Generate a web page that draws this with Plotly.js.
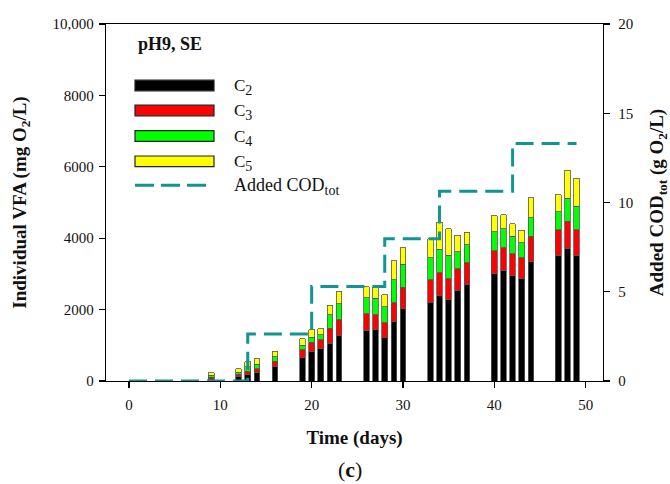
<!DOCTYPE html>
<html>
<head>
<meta charset="utf-8">
<script src="https://cdn.plot.ly/plotly-3.0.1.min.js"></script>
<style>html,body{margin:0;padding:0;background:#fff;}#chart{width:670px;height:484px;}</style>
</head>
<body>
<div id="chart"></div>
<script>
// Sampling days (x) for the VFA bars
const days = [9,12,13,14,16,19,20,21,22,23,26,27,28,29,30,33,34,35,36,37,40,41,42,43,44,47,48,49];
// Individual VFA concentrations (mg O2/L)
const c2 = [56,140,178,252,393,654,822,897,1056,1262,1402,1430,1215,1654,2019,2206,2393,2280,2542,2692,3000,3084,2944,2860,3336,3505,3720,3505];
const c3 = [47,56,93,93,159,215,262,252,421,449,477,430,411,542,607,626,636,579,598,626,654,654,617,598,720,738,757,729];
const c4 = [56,47,131,131,121,131,140,150,383,458,449,458,449,636,645,626,664,664,486,495,523,523,495,411,523,505,645,664];
const c5 = [75,100,131,150,159,178,206,159,262,346,308,308,336,533,458,523,757,738,458,355,458,402,346,355,551,467,776,776];
// Added COD total (g O2/L), step line
const codDays = [0,13,20,28,34,42,49];
const codVals = [0,2.64,5.30,7.97,10.63,13.30,13.30];
// Tick labels
const xTicks = [0,10,20,30,40,50];
const yTicks = [0,2000,4000,6000,8000,10000];
const yTickText = ['0','2000','4000','6000','8000','10,000'];
const y2Ticks = [0,5,10,15,20];
const seriesNames = ['C<sub>2</sub>','C<sub>3</sub>','C<sub>4</sub>','C<sub>5</sub>'];
const legendNames = ['C<sub><span style="font-size:14px">2</span></sub>','C<sub><span style="font-size:14px">3</span></sub>','C<sub><span style="font-size:14px">4</span></sub>','C<sub><span style="font-size:14px">5</span></sub>'];
const seriesColors = ['#000000','#ff0000','#00ff00','#ffff00'];
const codName = 'Added COD<sub>tot</sub>';
const codLegend = 'Added COD<sub><span style="font-size:14px">tot</span></sub>';
const codColor = '#109494';

const FONT = 'Liberation Serif, Times New Roman, serif';
const series = [c2,c3,c4,c5];
const traces = series.map((vals,i)=>({
  type:'bar', x:days, y:vals, name:seriesNames[i], width:0.62,
  marker:{color:seriesColors[i], line:{color:'#555', width:0.8}},
  showlegend:false, yaxis:'y', xaxis:'x'
}));
traces.push({
  type:'scatter', mode:'lines', x:codDays, y:codVals, name:codName,
  line:{color:codColor, width:3, shape:'hv', dash:'18px,8px'},
  yaxis:'y2', showlegend:false
});

// manual legend (paper coords)
const L = 106, R = 603, T = 24, B = 381;
const px = v => (v - L)/(R - L);
const py = v => (B - v)/(B - T);
const shapes = [];
const annotations = [];
const legRows = [85.5, 110.5, 136, 161.3];
legRows.forEach((yc,i)=>{
  shapes.push({type:'rect', xref:'paper', yref:'paper', x0:px(135), x1:px(214), y0:py(yc+5.3), y1:py(yc-5.3),
    fillcolor:seriesColors[i], line:{color:'#222', width:1.2}});
  annotations.push({xref:'paper', yref:'paper', x:px(232), y:py(yc+1.5), xanchor:'left', yanchor:'middle',
    text:legendNames[i], showarrow:false, font:{family:FONT, size:17, color:'#111'}});
});
shapes.push({type:'line', xref:'paper', yref:'paper', x0:px(135), x1:px(207), y0:py(185.3), y1:py(185.3),
  line:{color:codColor, width:3, dash:'19px,7px'}});
annotations.push({xref:'paper', yref:'paper', x:px(232), y:py(186), xanchor:'left', yanchor:'middle',
  text:codLegend, showarrow:false, font:{family:FONT, size:18, color:'#111'}});
annotations.push({xref:'paper', yref:'paper', x:px(136), y:py(44), xanchor:'left', yanchor:'middle',
  text:'<b>pH9, SE</b>', showarrow:false, font:{family:FONT, size:18, color:'#111'}});
annotations.push({xref:'paper', yref:'paper', x:px(350), y:py(469), xanchor:'center', yanchor:'middle',
  text:'(<b>c</b>)', showarrow:false, font:{family:FONT, size:22, color:'#111'}});

const axisCommon = {showgrid:false, zeroline:false, showline:true, linecolor:'#000', linewidth:1.3,
  ticks:'outside', ticklen:6, tickwidth:1.2, tickcolor:'#000',
  tickfont:{family:FONT, size:15, color:'#111'}};

const layout = {
  width:670, height:484,
  margin:{l:L, r:670-R, t:T, b:484-B, pad:0},
  paper_bgcolor:'#fff', plot_bgcolor:'#fff',
  barmode:'stack', bargap:0,
  showlegend:false,
  font:{family:FONT, color:'#111'},
  xaxis:Object.assign({}, axisCommon, {range:[-2.52,51.9], tickvals:xTicks, mirror:true, ticklabelstandoff:4,
    title:{text:'<b>Time (days)</b>', font:{family:FONT, size:19, color:'#111'}, standoff:18}}),
  yaxis:Object.assign({}, axisCommon, {range:[0,10000], tickvals:yTicks, ticktext:yTickText, ticklabelstandoff:2,
    title:{text:'<b>Individual VFA (mg O<sub>2</sub>/L)</b>', font:{family:FONT, size:19, color:'#111'}, standoff:20}}),
  yaxis2:Object.assign({}, axisCommon, {range:[0,20], tickvals:y2Ticks, overlaying:'y', side:'right', ticklabelstandoff:5,
    title:{text:'<b>Added COD<sub>tot</sub> (g O<sub>2</sub>/L)</b>', font:{family:FONT, size:19, color:'#111'}, standoff:20}}),
  shapes:shapes, annotations:annotations
};

Plotly.newPlot('chart', traces, layout, {displayModeBar:false, staticPlot:true});
</script>
</body>
</html>
